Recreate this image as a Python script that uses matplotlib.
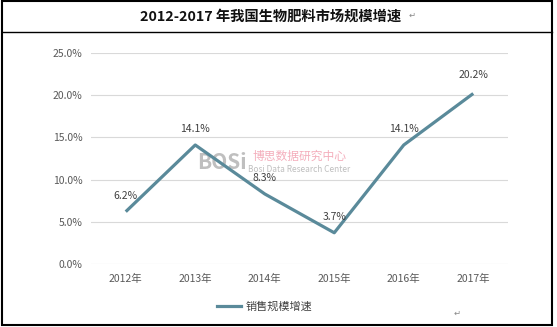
import matplotlib
matplotlib.use('Agg')
import matplotlib.pyplot as plt
from matplotlib.patches import Rectangle
from matplotlib.lines import Line2D

plt.rcParams['font.family'] = ['Noto Sans CJK SC', 'DejaVu Sans']

years = ['2012年', '2013年', '2014年', '2015年', '2016年', '2017年']
growth = [6.2, 14.1, 8.3, 3.7, 14.1, 20.2]
labels = ['6.2%', '14.1%', '8.3%', '3.7%', '14.1%', '20.2%']
yticks = [0, 5, 10, 15, 20, 25]

line_color = '#5A8A9A'

fig = plt.figure(figsize=(5.57, 3.27), dpi=100, facecolor='w')

# outer frame and title separator
fig.add_artist(Rectangle((0.003, 0.006), 0.988, 0.99, transform=fig.transFigure,
                         fill=False, edgecolor='black', linewidth=1.5))
fig.add_artist(Line2D([0.003, 0.991], [1 - 32 / 327, 1 - 32 / 327],
                      transform=fig.transFigure, color='black', linewidth=1.0))
fig.text(0.485, 1 - 17 / 327, '2012-2017 年我国生物肥料市场规模增速', ha='center', va='center',
         fontsize=10.3, fontweight='bold', color='#111111')
fig.text(0.74, 1 - 15 / 327, '↵', ha='center', va='center', fontsize=6,
         color='#888888', family=['DejaVu Sans'])

ax = fig.add_axes([91 / 557, 63 / 327, 417 / 557, 211 / 327])
x = list(range(len(years)))
ax.plot(x, growth, color=line_color, linewidth=2.3, label='销售规模增速', solid_capstyle='butt')

offsets = [(0, 8), (0, 8), (0, 8), (0, 8), (0, 8), (0, 10)]
for xi, yi, lab, off in zip(x, growth, labels, offsets):
    ax.annotate(lab, (xi, yi), xytext=off, textcoords='offset points', ha='center',
                va='bottom', fontsize=7.5, color='#404040')

ax.set_xlim(-0.5, len(years) - 0.5)
ax.set_ylim(0, 25)
ax.set_yticks(yticks)
ax.set_yticklabels(['%.1f%%' % v for v in yticks])
ax.set_xticks(x)
ax.set_xticklabels(years)
ax.tick_params(axis='both', length=0, labelsize=7.5, labelcolor='#595959')
ax.tick_params(axis='y', pad=6)
ax.tick_params(axis='x', pad=7)
ax.grid(axis='y', color='#D9D9D9', linewidth=0.8)
ax.set_axisbelow(True)
for s in ax.spines.values():
    s.set_visible(False)

# watermark
ax.text(1.38, 12.0, 'BOSi', fontsize=15, fontweight='bold', color='#B0B0B0', alpha=0.8,
        ha='center', va='center', zorder=0.5, style='italic')
ax.text(2.5, 12.7, '博思数据研究中心', fontsize=8.5, color='#F2A0B0', alpha=0.85,
        ha='center', va='center', zorder=0.5)
ax.text(2.5, 11.2, 'Bosi Data Research Center', fontsize=6, color='#B8B8B8', alpha=0.9,
        ha='center', va='center', zorder=0.5)

fig.legend(handles=[Line2D([0], [0], color=line_color, linewidth=2.3)],
           labels=['销售规模增速'], loc='center', bbox_to_anchor=(0.475, 1 - 307 / 327),
           frameon=False, fontsize=8, labelcolor='#404040', handlelength=2.2, handletextpad=0.4)
fig.text(0.82, 1 - 313 / 327, '↵', ha='center', va='center', fontsize=6,
         color='#888888', family=['DejaVu Sans'])

fig.savefig('out.png', dpi=100, facecolor='w')
